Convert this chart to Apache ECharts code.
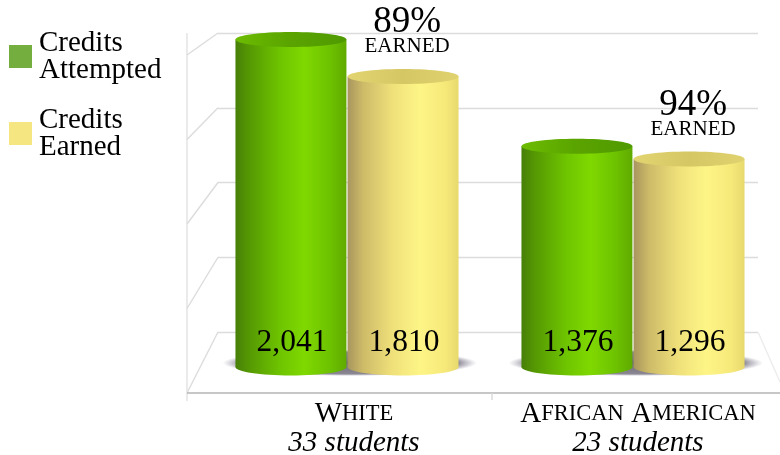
<!DOCTYPE html>
<html><head><meta charset="utf-8">
<script src="https://cdn.jsdelivr.net/npm/echarts@6/dist/echarts.min.js"></script>
<style>html,body{margin:0;padding:0;background:#fff}#c{width:780px;height:455px;filter:blur(0.35px)}</style>
</head><body><div id="c"></div>
<script>
const categories = ['White', 'African American'];
const studentCounts = ['33 students', '23 students'];
const creditsAttempted = [2041, 1376];
const creditsEarned = [1810, 1296];
const percentEarned = ['89%', '94%'];
const wallTicks = [0, 500, 1000, 1500, 2000];

const SERIF = '"Liberation Serif","Times New Roman",serif';
const chart = echarts.init(document.getElementById('c'), null, {renderer: 'canvas'});

const hGrad = stops => new echarts.graphic.LinearGradient(0, 0, 1, 0,
  stops.map(s => ({offset: s[0], color: s[1]})));
const greenBody = [[0,'#477f08'],[0.12,'#559803'],[0.4,'#6ec400'],[0.62,'#80d800'],[0.85,'#6dc200'],[1,'#60aa00']];
const greenTop = [[0,'#6cbc00'],[0.5,'#5aa300'],[1,'#4f9a00']];
const yellowBody = [[0,'#a8955f'],[0.14,'#cdbb68'],[0.4,'#efe07a'],[0.65,'#fdf586'],[0.88,'#f6e97a'],[1,'#e8d96c']];
const yellowTop = [[0,'#e2d470'],[0.5,'#d5c763'],[1,'#e0d26e']];

function cylinder(palette, offset, topFill, showPct) {
  return function (params, api) {
    const idx = api.value(0), val = api.value(1);
    const band = api.size([1, 0])[0];
    const base = api.coord([idx, 0]);
    const top = api.coord([idx, val]);
    const cx = base[0] + offset * band;
    const rx = band * 0.194;
    const kids = [
      {type: 'ellipse', shape: {cx, cy: base[1], rx, ry: 8.5},
       style: {fill: hGrad(palette)}},
      {type: 'rect', shape: {x: cx - rx, y: top[1], width: rx * 2, height: base[1] - top[1]},
       style: {fill: hGrad(palette)}},
      {type: 'ellipse', shape: {cx, cy: top[1], rx, ry: 7.5},
       style: {fill: hGrad(topFill)}},
      {type: 'text', style: {text: echarts.format.addCommas(val), x: cx + 1, y: base[1] - 24,
        align: 'center', verticalAlign: 'middle', fill: '#000', font: '31.5px ' + SERIF}}
    ];
    if (showPct) {
      kids.push({type: 'text', style: {text: percentEarned[idx], x: cx + 4, y: top[1] - 54,
        align: 'center', verticalAlign: 'middle', fill: '#000', font: '37px ' + SERIF}});
      kids.push({type: 'text', style: {text: 'EARNED', x: cx + 4, y: top[1] - 30,
        align: 'center', verticalAlign: 'middle', fill: '#000', font: '21px ' + SERIF}});
    }
    return {type: 'group', children: kids};
  };
}

function shadowItem(params, api) {
  const idx = api.value(0);
  const band = api.size([1, 0])[0];
  const c = api.coord([idx, 0]);
  const rx = band * 0.445;
  return {type: 'circle', x: c[0] + 0.01 * band, y: c[1] - 4, scaleY: 13 / rx,
    shape: {cx: 0, cy: 0, r: rx},
    style: {fill: new echarts.graphic.RadialGradient(0.5, 0.5, 0.5, [
      {offset: 0, color: '#6f6c76'}, {offset: 0.85, color: '#8b8894'}, {offset: 1, color: 'rgba(170,165,180,0)'}])}};
}

function wallItem(params, api) {
  const t = api.value(0);
  const band = api.size([1, 0])[0];
  const back = api.coord([0, t]);
  const backX = back[0] - band / 2;
  const frontY = chart.convertToPixel({yAxisIndex: 2}, t);
  const frontX = 187;
  const kids = [{type: 'line', shape: {x1: backX, y1: back[1], x2: frontX, y2: frontY},
    style: {stroke: '#dcdcdc', lineWidth: 1.4}}];
  if (t === 0) {
    kids.push({type: 'line', shape: {x1: frontX, y1: 33, x2: frontX, y2: frontY + 8},
      style: {stroke: '#e2e2e2', lineWidth: 1.4}});
    kids.push({type: 'line', shape: {x1: frontX, y1: frontY, x2: 780, y2: frontY},
      style: {stroke: '#b4b4b4', lineWidth: 1.5}});
    kids.push({type: 'line', shape: {x1: backX + band * 2, y1: back[1], x2: 780, y2: back[1] + 50},
      style: {stroke: '#ececec', lineWidth: 1.4}});
    kids.push({type: 'line', shape: {x1: 492, y1: frontY, x2: 492, y2: frontY + 7},
      style: {stroke: '#d8d8d8', lineWidth: 1.4}});
  }
  return {type: 'group', children: kids};
}

function labelText(value, i) {
  const words = value.split(' ').map(w =>
    '{b|' + w[0].toUpperCase() + '}{s|' + w.slice(1).toUpperCase() + '}');
  return words.join('{sp| }') + '\n{i|' + studentCounts[i] + '}';
}

const richLabel = {
  b: {fontFamily: SERIF, fontSize: 29, color: '#000', lineHeight: 29},
  s: {fontFamily: SERIF, fontSize: 22.5, color: '#000', lineHeight: 29},
  sp: {fontFamily: SERIF, fontSize: 29, color: '#000', lineHeight: 29},
  i: {fontFamily: SERIF, fontSize: 29, fontStyle: 'italic', color: '#000', lineHeight: 29}
};

chart.setOption({
  animation: false,
  backgroundColor: '#fff',
  legend: {
    orient: 'vertical', left: 4, top: 23.5, itemWidth: 23, itemHeight: 23, itemGap: 21,
    selectedMode: false,
    textStyle: {fontFamily: SERIF, fontSize: 29, lineHeight: 27, color: '#000', padding: [0, 0, 0, 2]},
    formatter: n => n.replace(' ', '\n'),
    data: [
      {name: 'Credits Attempted', icon: 'rect', itemStyle: {color: '#74ae3f'}},
      {name: 'Credits Earned', icon: 'rect', itemStyle: {color: '#f6e681'}}
    ]
  },
  grid: [
    {left: 204, width: 572, top: 30, bottom: 88, outerBoundsMode: 'none'},
    {left: 218, width: 540, top: 33, bottom: 123, outerBoundsMode: 'none'},
    {left: 212, right: 0, top: 55, bottom: 62, outerBoundsMode: 'none'}
  ],
  xAxis: [
    {gridIndex: 0, type: 'category', data: categories, show: false},
    {gridIndex: 1, type: 'category', data: categories, show: false},
    {gridIndex: 2, type: 'category', data: categories,
     axisLine: {show: false}, axisTick: {show: false},
     axisLabel: {margin: 7, interval: 0, formatter: labelText, rich: richLabel, align: 'center'}}
  ],
  yAxis: [
    {gridIndex: 0, type: 'value', min: 0, max: 2100, show: false},
    {gridIndex: 1, type: 'value', min: 0, max: 2000, interval: 500,
     axisLine: {show: false}, axisTick: {show: false}, axisLabel: {show: false},
     splitLine: {show: true, lineStyle: {color: '#dcdcdc', width: 1.4}}},
    {gridIndex: 2, type: 'value', min: 0, max: 2000, interval: 500,
     axisLine: {show: false}, axisTick: {show: false}, axisLabel: {show: false}, splitLine: {show: false}}
  ],
  series: [
    {type: 'custom', name: 'walls', xAxisIndex: 1, yAxisIndex: 1, z: 1, silent: true,
     data: wallTicks.map(t => [t]), encode: {y: 0}, renderItem: wallItem},
    {type: 'custom', name: 'shadows', xAxisIndex: 0, yAxisIndex: 0, z: 2, silent: true,
     data: categories.map((c, i) => [i]), encode: {x: 0}, renderItem: shadowItem},
    {type: 'custom', name: 'Credits Earned', xAxisIndex: 0, yAxisIndex: 0, z: 3, silent: true,
     data: creditsEarned.map((v, i) => [i, v]), encode: {x: 0, y: 1},
     itemStyle: {color: '#f6e681'},
     renderItem: cylinder(yellowBody, 0.196, yellowTop, true)},
    {type: 'custom', name: 'Credits Attempted', xAxisIndex: 0, yAxisIndex: 0, z: 4, silent: true,
     data: creditsAttempted.map((v, i) => [i, v]), encode: {x: 0, y: 1},
     itemStyle: {color: '#74ae3f'},
     renderItem: cylinder(greenBody, -0.196, greenTop, false)}
  ]
});
</script></body></html>
